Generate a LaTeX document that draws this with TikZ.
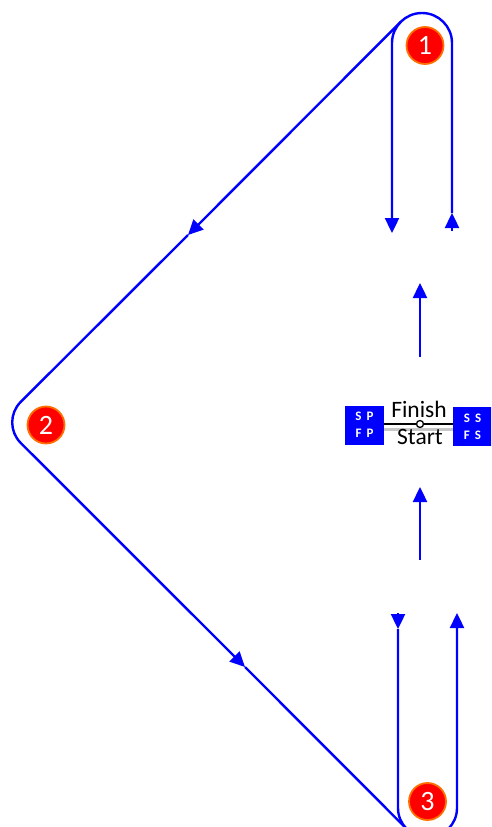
\documentclass[tikz,border=0pt]{standalone}
\usepackage{fontspec}
\setmainfont{Carlito}
\usetikzlibrary{arrows.meta}
\definecolor{lblue}{RGB}{0,0,255}
\definecolor{bred}{RGB}{255,0,0}
\definecolor{bring}{RGB}{255,110,0}
\begin{document}
\begin{tikzpicture}[x=1pt,y=1pt,
  flow/.style={draw=lblue,line width=2.4pt},
  arr/.style={flow,-{Triangle[length=15pt,width=14pt]}},
  badge/.style={circle,fill=bred,draw=bring,line width=1.8pt,minimum size=37pt,inner sep=0pt,text=white,font=\fontsize{28}{28}\selectfont},
  tagbox/.style={fill=lblue,minimum width=39pt,minimum height=39pt,inner sep=0pt,text=white,font=\bfseries\fontsize{13}{17}\selectfont,align=center},
  lbl/.style={font=\fontsize{23.5}{23.5}\selectfont,inner sep=0pt}]
\path[use as bounding box] (0,0) rectangle (491,-827);
\clip (0,0) rectangle (491,-827);
% coordinates
\coordinate (TLtop) at (392,-43);
\coordinate (TLend) at (392,-233);
\coordinate (TRbot) at (452,-231);
\coordinate (TRtip) at (452,-213);
\coordinate (TRtop) at (452,-43);
\coordinate (BLstub) at (398,-613);
\coordinate (BLtip) at (398,-629);
\coordinate (BLbot) at (398,-808);
\coordinate (BRbot) at (457,-808);
\coordinate (BRend) at (457,-613);
\coordinate (DTop) at (400.79,-21.79);
\coordinate (DArr1) at (188,-235);
\coordinate (DVert) at (0.18,-422.4);
\coordinate (DArr2) at (245,-667);
\coordinate (DBot) at (406.64,-828.86);
\coordinate (M1s) at (420,-357);
\coordinate (M1e) at (420,-283);
\coordinate (M2s) at (420,-560);
\coordinate (M2e) at (420,-487);
% top loop
\draw[arr] (TRbot) -- (TRtip);
\draw[arr] (TRtip) -- (TRtop) arc[start angle=0,end angle=180,radius=30pt] -- (TLend);
% bottom loop
\draw[arr] (BLstub) -- (BLtip);
\draw[arr] (BLtip) -- (BLbot) arc[start angle=180,end angle=360,radius=29.5pt] -- (BRend);
% diagonals
\draw[arr] (DTop) -- (DArr1);
\draw[arr,rounded corners=29pt] (DArr1) -- (DVert) -- (DArr2);
\draw[flow] (DArr2) -- (DBot);
% middle arrows
\draw[arr] (M1s) -- (M1e);
\draw[arr] (M2s) -- (M2e);
% center
\node[tagbox] (SP) at (364.5,-425) {S\hspace{5pt}P\\F\hspace{5pt}P};
\node[tagbox] (SS) at (472.5,-426.5) {S\hspace{5pt}S\\F\hspace{5pt}S};
\draw[black!22,line width=3pt] ([yshift=-4pt]SP.east) -- ([yshift=-2.5pt]SS.west);
\draw[black,line width=2pt] ([yshift=1pt]SP.east) -- ([yshift=2.5pt]SS.west);
\node[circle,draw=black,fill=white,line width=1.3pt,minimum size=7pt,inner sep=0pt] (hub) at (420,-424) {};
\node[lbl,anchor=base] (fin) at (419,-417) {Finish};
\node[lbl,anchor=base] (sta) at (420,-444) {Start};
% badges
\node[badge] (b1) at (425,-45.5) {1};
\node[badge] (b2) at (46,-425) {2};
\node[badge] (b3) at (427.5,-801.5) {3};
\end{tikzpicture}
\end{document}
